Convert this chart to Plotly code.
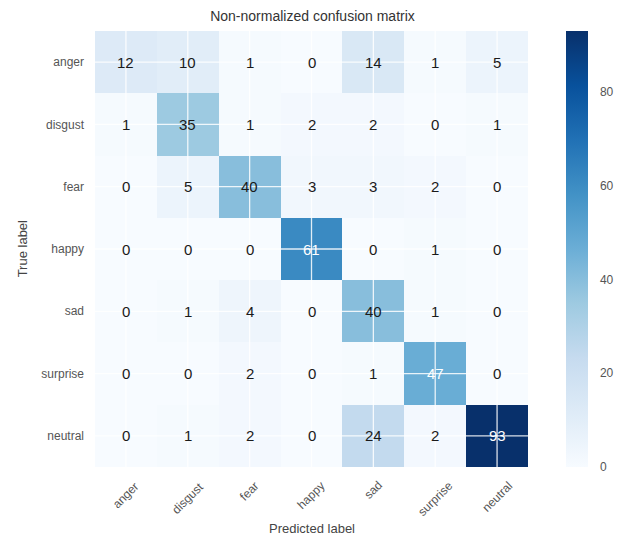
import plotly.graph_objects as go

classes = ["anger", "disgust", "fear", "happy", "sad", "surprise", "neutral"]
cm = [
    [12, 10, 1, 0, 14, 1, 5],
    [1, 35, 1, 2, 2, 0, 1],
    [0, 5, 40, 3, 3, 2, 0],
    [0, 0, 0, 61, 0, 1, 0],
    [0, 1, 4, 0, 40, 1, 0],
    [0, 0, 2, 0, 1, 47, 0],
    [0, 1, 2, 0, 24, 2, 93],
]
cbar_ticks = [0, 20, 40, 60, 80]

FONT = "Arial, Liberation Sans, sans-serif"
n = len(classes)
idx = list(range(n))
vmax = max(max(r) for r in cm)
thresh = vmax / 2.0

blues = [
    [0.0, "rgb(247,251,255)"], [0.125, "rgb(222,235,247)"], [0.25, "rgb(198,219,239)"],
    [0.375, "rgb(158,202,225)"], [0.5, "rgb(107,174,214)"], [0.625, "rgb(66,146,198)"],
    [0.75, "rgb(33,113,181)"], [0.875, "rgb(8,81,156)"], [1.0, "rgb(8,48,107)"],
]

fig = go.Figure(go.Heatmap(
    z=cm, x=idx, y=idx, zmin=0, zmax=vmax, colorscale=blues,
    xgap=0, ygap=0, hoverinfo="skip",
    colorbar=dict(
        x=1.087, xanchor="left", y=0.5, yanchor="middle", len=1.0, lenmode="fraction",
        thickness=22, outlinewidth=0, ticks="outside", ticklen=10,
        tickcolor="rgba(0,0,0,0)", tickvals=cbar_ticks,
        tickfont=dict(family=FONT, size=12, color="#555555"),
        xpad=0, ypad=0,
    ),
))

annotations = []
# cell counts, white on dark cells
for i in range(n):
    for j in range(n):
        v = cm[i][j]
        annotations.append(dict(
            x=j, y=i, xref="x", yref="y", text=str(v), showarrow=False,
            font=dict(family=FONT, size=15,
                      color="white" if v > thresh else "#1a1a1a"),
        ))
# rotated predicted-class labels, centred under each column
for j, name in enumerate(classes):
    annotations.append(dict(
        x=j, y=0, xref="x", yref="paper", text=name, showarrow=False,
        textangle=-45, xanchor="center", yanchor="top", yshift=-9,
        font=dict(family=FONT, size=12, color="#555555"),
    ))
# axis titles
annotations.append(dict(
    x=0.5, y=-61 / 436, xref="paper", yref="paper", text="Predicted label",
    showarrow=False, xanchor="center", yanchor="middle",
    font=dict(family=FONT, size=13, color="#444444"),
))
annotations.append(dict(
    x=-73 / 435, y=0.5, xref="paper", yref="paper", text="True label",
    showarrow=False, textangle=-90, xanchor="center", yanchor="middle",
    font=dict(family=FONT, size=13, color="#444444"),
))

shapes = []
# white grid through cell centres, drawn on top of the heatmap
for k in idx:
    shapes.append(dict(type="line", xref="x", yref="y", x0=k, x1=k, y0=-0.5, y1=n - 0.5,
                       line=dict(color="rgba(255,255,255,0.85)", width=1.3), layer="above"))
    shapes.append(dict(type="line", xref="x", yref="y", x0=-0.5, x1=n - 0.5, y0=k, y1=k,
                       line=dict(color="rgba(255,255,255,0.85)", width=1.3), layer="above"))

fig.update_layout(
    width=626, height=540,
    margin=dict(l=95, r=96, t=31, b=73),
    paper_bgcolor="white", plot_bgcolor="white",
    font=dict(family=FONT),
    title=dict(text="Non-normalized confusion matrix", x=0.4992, xanchor="center",
               y=1 - 16 / 540, yanchor="middle",
               font=dict(family=FONT, size=14, color="#333333")),
    xaxis=dict(range=[-0.5, n - 0.5], showticklabels=False, showgrid=False,
               zeroline=False, ticks="", fixedrange=True),
    yaxis=dict(range=[n - 0.5, -0.5], tickvals=idx, ticktext=classes, showgrid=False,
               zeroline=False, ticks="", ticklabelstandoff=10,
               tickfont=dict(family=FONT, size=12, color="#555555")),
    annotations=annotations, shapes=shapes,
)

fig.write_html("out.html")
